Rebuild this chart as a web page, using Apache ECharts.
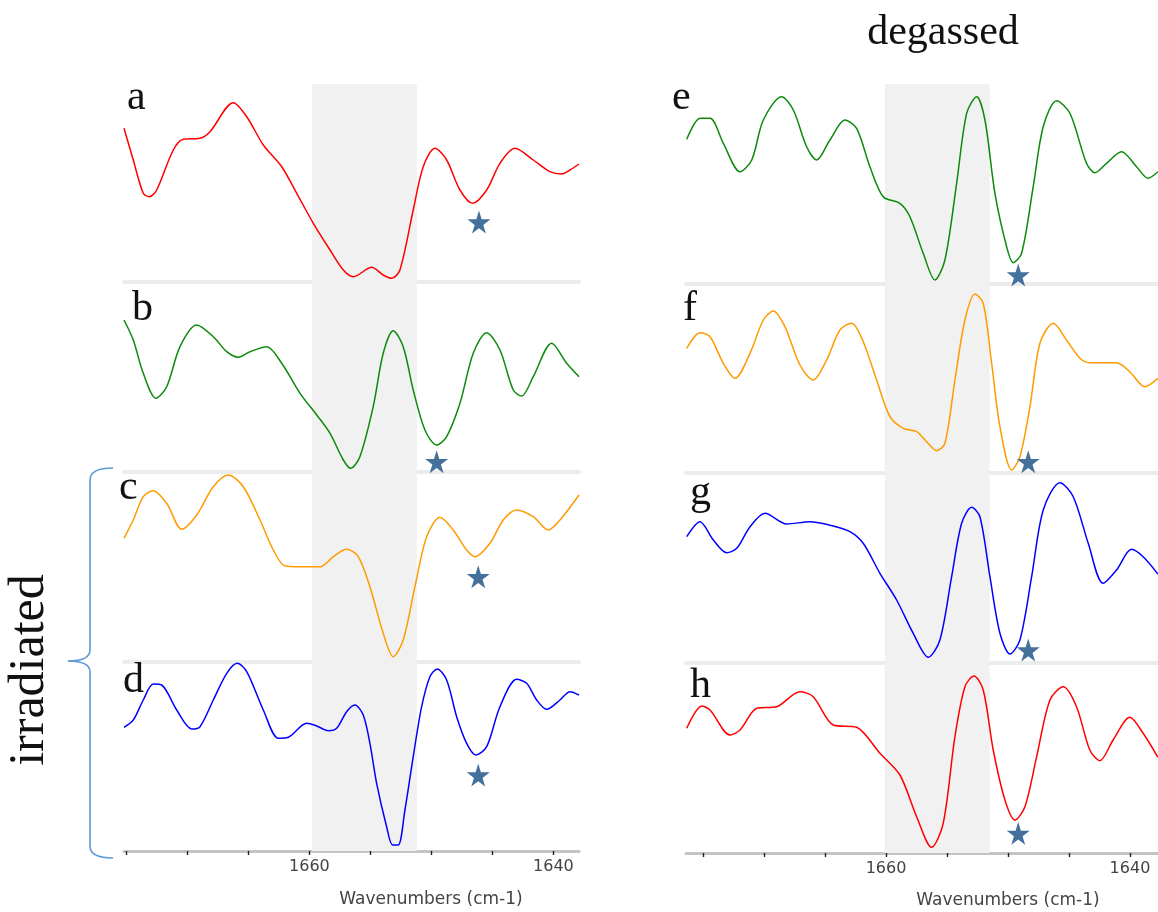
<!DOCTYPE html>
<html><head><meta charset="utf-8">
<script src="https://cdn.jsdelivr.net/npm/echarts@6/dist/echarts.min.js"></script>
<style>html,body{margin:0;padding:0;background:#fff}#chart{width:1158px;height:912px}</style>
</head><body><div id="chart"></div>
<script>
// ---------------- DATA ----------------
const panelLabels = ['a','b','c','d','e','f','g','h'];
const topTitle = 'degassed';
const sideTitle = 'irradiated';
const axisTitle = 'Wavenumbers (cm-1)';
const tickValues = [1675,1670,1665,1660,1655,1650,1645,1640];
const labelValues = [1660,1640];
const shadeLeft = [1659.8, 1651.2];
const shadeRight = [1660.1, 1651.5];
const starWavenumber = [1646.1, 1649.57, 1646.16, 1646.16, 1649.16, 1648.34, 1648.34, 1649.16];
const starLevel = [60, 10.3, 85.3, 76, 9, 11.3, 13, 19.7];

const specA = [[1675.2,153.7],[1674.44,122],[1673.62,88.7],[1673.13,85.3],[1672.52,92],[1671.16,132],[1670.34,142.7],[1668.97,143.7],[1668.15,150.3],[1666.24,179.3],[1665.14,165.3],[1663.78,137],[1662.27,115.3],[1661.04,88.7],[1659.68,58.7],[1658.31,32],[1657.22,12],[1656.40,5.3],[1654.90,14.7],[1653.95,7],[1653.26,3.7],[1652.58,12],[1651.49,72],[1650.67,115.3],[1649.71,133.7],[1648.75,122],[1647.66,92],[1646.62,78.7],[1645.47,92],[1644.38,118.7],[1643.15,133.7],[1641.65,122],[1640.28,110.3],[1639.32,108],[1638.64,112],[1637.9,118]];
const specB = [[1675.2,152],[1674.44,132],[1673.62,98.7],[1672.58,73.7],[1671.70,85.3],[1670.61,125.3],[1669.24,147],[1667.88,135.3],[1666.78,120.3],[1665.83,114.7],[1664.87,120.3],[1663.50,125.3],[1662.27,108.7],[1660.77,78.7],[1659.40,57],[1658.31,38.7],[1657.22,12],[1656.62,3.7],[1655.86,15.3],[1654.77,65.3],[1653.95,118.7],[1653.13,141.3],[1652.31,125.3],[1651.49,82],[1650.53,42],[1649.57,27],[1648.75,35.3],[1647.66,68.7],[1646.57,118.7],[1645.47,139.3],[1644.38,122],[1643.29,82],[1642.60,76],[1641.65,95.3],[1640.14,128.7],[1638.91,108.7],[1637.9,95.3]];
const specC = [[1675.2,123.7],[1674.44,142],[1673.62,165.3],[1672.80,171.3],[1671.70,158.7],[1670.47,132.7],[1669.24,147],[1667.88,175.3],[1666.65,187],[1665.42,175.3],[1664.05,142],[1662.96,112],[1662.00,96],[1660.77,95.3],[1659.13,95.3],[1658.04,105.3],[1656.95,112.7],[1656.00,105.3],[1655.04,75.3],[1653.95,28.7],[1653.13,5.3],[1652.31,22],[1651.35,75.3],[1650.39,125.3],[1649.30,144.7],[1648.21,132],[1647.11,112],[1646.43,105.3],[1645.20,118.7],[1644.11,142],[1643.01,152],[1641.65,145.3],[1640.42,132],[1639.46,142],[1637.9,167]];
const specD = [[1675.2,123.7],[1674.44,131],[1673.62,151],[1672.80,167],[1672.11,166],[1670.88,141],[1669.65,122],[1668.97,124.3],[1667.88,151],[1666.78,177.7],[1665.91,187.7],[1665.14,179.3],[1663.78,141],[1662.55,112.7],[1661.73,113.7],[1660.22,127.7],[1659.40,125],[1658.45,120.3],[1657.77,122.7],[1656.95,139.3],[1656.27,146],[1655.59,136],[1655.04,107.7],[1654.49,67.7],[1653.67,24.3],[1653.18,6],[1652.72,6],[1652.17,41],[1651.49,94.3],[1650.80,144.3],[1650.12,174.3],[1649.52,182],[1648.75,171],[1647.93,134.3],[1647.11,107.7],[1646.35,96],[1645.47,104.3],[1644.38,144.3],[1643.01,171.7],[1642.19,167.7],[1641.37,151],[1640.55,141.7],[1639.46,151],[1638.64,159.3],[1637.9,156]];
const specE = [[1676.34,144.7],[1675.25,165.7],[1674.43,165.7],[1673.34,140.7],[1671.97,112.3],[1671.01,124],[1670.06,164],[1668.56,187.3],[1667.60,174],[1666.51,137.3],[1665.69,124],[1664.60,144],[1663.37,164],[1662.41,155.7],[1661.32,117.3],[1660.23,87.3],[1658.86,80.7],[1658.04,67.3],[1656.95,30.7],[1655.99,4],[1655.17,24],[1654.21,100.7],[1653.39,170.7],[1652.57,187.3],[1651.89,164],[1651.07,90.7],[1650.11,37.3],[1649.57,21.3],[1648.88,30.7],[1647.93,97.3],[1647.11,157.3],[1646.01,183.3],[1644.92,170.7],[1643.56,120.7],[1642.88,111.3],[1641.92,120.7],[1640.69,132.3],[1639.46,117.3],[1638.51,105.7],[1637.71,112.3]];
const specF = [[1676.34,124.7],[1675.25,140.3],[1674.43,136.3],[1673.34,109.7],[1672.38,94.7],[1671.15,119.7],[1670.06,153],[1669.24,162],[1668.29,146.3],[1667.06,108],[1665.97,93],[1664.87,113],[1663.78,143],[1662.82,149.7],[1661.87,131.3],[1660.77,93],[1659.68,56.3],[1658.59,44.7],[1657.49,41.3],[1656.67,31.3],[1655.85,22.3],[1655.17,29.7],[1654.35,93],[1653.53,153],[1652.71,179],[1652.03,169.7],[1651.34,109.7],[1650.66,46.3],[1649.70,3],[1649.02,16.3],[1648.20,66.3],[1647.38,129.7],[1646.29,149.7],[1645.20,133],[1644.10,114.7],[1643.29,110.3],[1641.10,110.3],[1640.01,101.3],[1638.78,86.3],[1637.71,94.7]];
const specG = [[1676.34,126.3],[1675.25,141.3],[1674.16,123],[1673.06,110.3],[1672.24,114.7],[1671.15,136.3],[1669.92,149.7],[1668.15,139],[1666.24,141.3],[1664.33,137],[1662.96,131.3],[1661.87,119.7],[1660.50,89.7],[1659.13,63],[1657.77,29.7],[1656.54,5.7],[1655.58,23],[1654.62,86.3],[1653.80,139.7],[1652.98,155.7],[1652.30,146.3],[1651.48,86.3],[1650.66,29.7],[1649.84,9],[1649.02,23],[1648.06,86.3],[1647.11,153],[1645.74,180.3],[1644.65,166.3],[1643.42,119.7],[1642.20,79.7],[1641.10,93],[1639.87,113.7],[1638.92,106.3],[1637.71,89]];
const specH = [[1676.34,124.7],[1675.11,147],[1674.43,143],[1672.79,118],[1671.97,123],[1670.60,144.7],[1668.97,146.3],[1667.06,161.3],[1665.97,156.3],[1664.33,128],[1662.41,125.7],[1660.50,99.7],[1658.86,78],[1657.49,36.3],[1656.26,5.7],[1655.31,29.7],[1654.35,116.3],[1653.53,166.3],[1652.79,177],[1652.03,163],[1651.21,103],[1650.25,53],[1649.43,33],[1648.61,46.3],[1647.65,96.3],[1646.56,153],[1645.47,166.3],[1644.38,146.3],[1643.29,103],[1642.47,92.3],[1641.38,113],[1640.01,135.7],[1638.92,119.7],[1637.71,95.7]];

// ---------------- STYLE / LAYOUT ----------------
const spectra = [specA, specB, specC, specD, specE, specF, specG, specH];
const RED = '#ff0000', GREEN = '#0b8a0b', ORANGE = '#ff9a00', BLUE = '#0000ff';
const colors = [RED, GREEN, ORANGE, BLUE, GREEN, ORANGE, BLUE, RED];
const layout = [
  {left:124,width:455,top:84,height:198},
  {left:124,width:455,top:282,height:190},
  {left:124,width:455,top:472,height:190},
  {left:124,width:455,top:662,height:189},
  {left:686,width:472,top:84,height:200},
  {left:686,width:472,top:284,height:189},
  {left:686,width:472,top:473,height:190},
  {left:686,width:472,top:663,height:190}
];
const rangeLeft = [1637.9, 1675.2];
const rangeRight = [1637.7, 1676.4];
const labelPos = [[127,98],[132,309],[119,488],[123,681],[672,98],[683,309],[690,493],[690,686]];
const STAR = 'path://M50,0 L61,35 L98,35 L68,57 L79,91 L50,70 L21,91 L32,57 L2,35 L39,35 Z';

const grids = [], xAxes = [], yAxes = [], series = [];
layout.forEach((g, i) => {
  const isRight = i >= 4;
  const isBottom = (i === 3 || i === 7);
  const range = isRight ? rangeRight : rangeLeft;
  const shade = isRight ? shadeRight : shadeLeft;
  grids.push({left: g.left, width: g.width, top: g.top, height: g.height, containLabel: false});
  xAxes.push({
    type: 'value', gridIndex: i, min: range[0], max: range[1], inverse: true,
    axisLine: {show: true, onZero: false, lineStyle: isBottom ? {color:'#c4c4c4', width:3} : {color:'#ececec', width:4}},
    axisTick: isBottom ? {show: true, customValues: tickValues, length: 4, lineStyle: {color:'#222', width:1.4}} : {show:false},
    axisLabel: isBottom ? {show: true, customValues: labelValues, margin: 8, color: '#444', fontFamily: 'DejaVu Sans', fontSize: 16,
      formatter: v => String(Math.round(v))} : {show:false},
    splitLine: {show: false}
  });
  yAxes.push({type: 'value', gridIndex: i, min: 0, max: g.height, show: false});
  series.push({
    type: 'line', xAxisIndex: i, yAxisIndex: i, data: spectra[i],
    showSymbol: false, smooth: 0.3, z: 3,
    lineStyle: {color: colors[i], width: 1.5}, itemStyle: {color: colors[i]},
    markArea: {silent: true, itemStyle: {color: '#f1f1f1'}, data: [[{xAxis: shade[0]}, {xAxis: shade[1]}]]}
  });
  series.push({
    type: 'scatter', xAxisIndex: i, yAxisIndex: i, z: 5,
    data: [[starWavenumber[i], starLevel[i]]],
    symbol: STAR, symbolSize: 23, itemStyle: {color: '#43719c', opacity: 1}
  });
});

const graphics = [];
panelLabels.forEach((t, i) => {
  graphics.push({type:'text', x: labelPos[i][0], y: labelPos[i][1], z: 10,
    style: {text: t, font: '42px "Liberation Serif"', fill: '#111', align: 'left', verticalAlign: 'middle'}});
});
graphics.push({type:'text', x: 943, y: 33, style: {text: topTitle, font: '42px "Liberation Serif"', fill: '#111', align:'center', verticalAlign:'middle'}});
graphics.push({type:'text', x: 30, y: 670, rotation: Math.PI/2, style: {text: sideTitle, font: '50px "Liberation Serif"', fill: '#111', align:'center', verticalAlign:'middle'}});
graphics.push({type:'text', x: 431, y: 900, style: {text: axisTitle, font: '17px "DejaVu Sans"', fill: '#444', align:'center', verticalAlign:'middle'}});
graphics.push({type:'text', x: 1008, y: 901, style: {text: axisTitle, font: '17px "DejaVu Sans"', fill: '#444', align:'center', verticalAlign:'middle'}});
// brace
const braceStyle = {fill: 'none', stroke: '#5b9bd5', lineWidth: 1.6};
graphics.push({type:'bezierCurve', shape:{x1:113,y1:468,x2:90,y2:480,cpx1:90,cpy1:468}, style: braceStyle});
graphics.push({type:'line', shape:{x1:90,y1:480,x2:90,y2:650}, style: braceStyle});
graphics.push({type:'bezierCurve', shape:{x1:90,y1:650,x2:68,y2:661,cpx1:90,cpy1:661}, style: braceStyle});
graphics.push({type:'bezierCurve', shape:{x1:68,y1:661,x2:90,y2:672,cpx1:90,cpy1:661}, style: braceStyle});
graphics.push({type:'line', shape:{x1:90,y1:672,x2:90,y2:846}, style: braceStyle});
graphics.push({type:'bezierCurve', shape:{x1:90,y1:846,x2:113,y2:858,cpx1:90,cpy1:858}, style: braceStyle});

const chart = echarts.init(document.getElementById('chart'), null, {renderer: 'canvas'});
chart.setOption({
  animation: false,
  backgroundColor: '#fff',
  grid: grids, xAxis: xAxes, yAxis: yAxes, series: series, graphic: graphics
});
</script>
</body></html>
